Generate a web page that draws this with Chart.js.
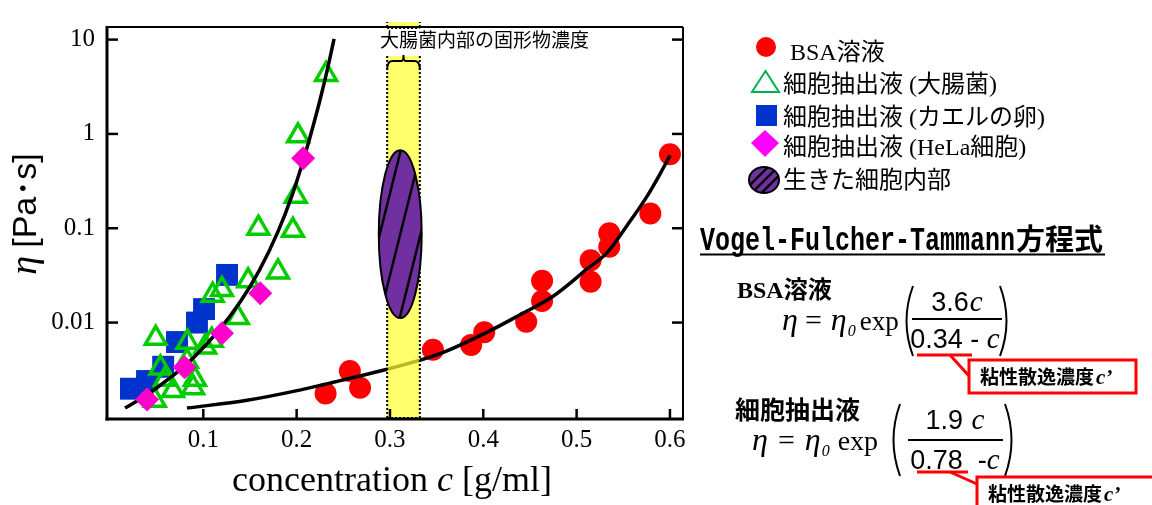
<!DOCTYPE html>
<html lang="ja">
<head>
  <meta charset="UTF-8">
  <title>粘性と濃度</title>
  <script src="https://cdn.jsdelivr.net/npm/chart.js@4"></script>
  <style>
    html, body { margin: 0; padding: 0; background: #fff; }
    .wrap { position: relative; width: 1152px; height: 505px; }
  </style>
</head>
<body>
<div class="wrap"><canvas id="chart"></canvas></div>
<script>
  // BSA溶液 (red circles)
  const bsaX = [0.231, 0.257, 0.268, 0.346, 0.387, 0.401, 0.446, 0.463, 0.463, 0.515, 0.515, 0.535, 0.535, 0.579, 0.600];
  const bsaY = [0.00177, 0.00306, 0.00204, 0.00514, 0.0058, 0.0079, 0.0102, 0.0169, 0.0277, 0.0271, 0.0457, 0.0637, 0.0887, 0.143, 0.61];

  // 細胞抽出液 (大腸菌) - green triangles
  const ecoliX = [0.049, 0.110, 0.120, 0.148, 0.180, 0.137, 0.109, 0.102, 0.083, 0.054, 0.059, 0.0675, 0.091, 0.089, 0.048, 0.0825, 0.159, 0.196, 0.199, 0.2015, 0.2315];
  const ecoliY = [0.0068, 0.0195, 0.0224, 0.0277, 0.0344, 0.0113, 0.0065, 0.0055, 0.0062, 0.0033, 0.0025, 0.0019, 0.0025, 0.00204, 0.0015, 0.0039, 0.100, 0.095, 0.219, 0.955, 4.27];

  // 細胞抽出液 (カエルの卵) - blue squares
  const frogX = [0.0225, 0.0397, 0.057, 0.0718, 0.0932, 0.1008, 0.1254];
  const frogY = [0.00199, 0.0024, 0.0034, 0.00622, 0.0100, 0.0139, 0.032];

  // 細胞抽出液 (HeLa細胞) - magenta diamonds
  const helaX = [0.0397, 0.080, 0.120, 0.161, 0.207];
  const helaY = [0.00153, 0.00336, 0.0077, 0.0204, 0.552];

  // fitted curves
  const bsaFitX = [0.0825, 0.1468, 0.2004, 0.254, 0.2969, 0.3537, 0.404, 0.4394, 0.4748, 0.5113, 0.5327, 0.5541, 0.5756, 0.5895, 0.6002];
  const bsaFitY = [0.00124, 0.0015, 0.0019, 0.00252, 0.0032, 0.00468, 0.00789, 0.0121, 0.019, 0.037, 0.0552, 0.107, 0.219, 0.378, 0.593];
  const cellFitX = [0.0161, 0.040, 0.065, 0.090, 0.115, 0.140, 0.160, 0.180, 0.195, 0.207, 0.217, 0.2251, 0.2337, 0.2401];
  const cellFitY = [0.00124, 0.00173, 0.00262, 0.0043, 0.0079, 0.0168, 0.0357, 0.092, 0.222, 0.52, 1.15, 2.3, 5.2, 10.2];

  // 大腸菌内部の固形物濃度 band and 生きた細胞内部 ellipse extents
  const bandX = [0.297, 0.332];
  const cellInteriorX = [0.288, 0.334];
  const cellInteriorY = [0.0112, 0.67];

  // axes
  const xTicks = [0.1, 0.2, 0.3, 0.4, 0.5, 0.6];
  const xTickLabels = ['0.1', '0.2', '0.3', '0.4', '0.5', '0.6'];
  const yTicks = [0.01, 0.1, 1, 10];
  const yTickLabels = ['0.01', '0.1', '1', '10'];
  const xMin = -0.0032, xMax = 0.614;
  const yMin = 0.00095, yMax = 13.6;

  const SERIF = '"Liberation Serif", "Noto Sans CJK JP", serif';
  const SANS = '"Liberation Sans", "Noto Sans CJK JP", sans-serif';
  const CJK = '"Noto Sans CJK JP", sans-serif';
  const MONO = '"Liberation Mono", monospace';

  const toPts = (xs, ys) => xs.map((x, i) => ({ x: x, y: ys[i] }));

  // draw a row of [text, font, gapAfter, dy] pieces
  function runs(ctx, parts, x, y, align, color) {
    ctx.save();
    ctx.fillStyle = color || '#000';
    ctx.textAlign = 'left';
    ctx.textBaseline = 'alphabetic';
    let total = 0;
    parts.forEach(p => { ctx.font = p[1]; total += ctx.measureText(p[0]).width + (p[2] || 0); });
    let cx = align === 'center' ? x - total / 2 : x;
    parts.forEach(p => {
      ctx.font = p[1];
      ctx.fillText(p[0], cx, y + (p[3] || 0));
      cx += ctx.measureText(p[0]).width + (p[2] || 0);
    });
    ctx.restore();
  }

  function line(ctx, x1, y1, x2, y2, w, color) {
    ctx.beginPath();
    ctx.moveTo(x1, y1);
    ctx.lineTo(x2, y2);
    ctx.lineWidth = w;
    ctx.strokeStyle = color || '#000';
    ctx.stroke();
  }

  function paren(ctx, x, top, bottom, dir) {
    // dir 1 = "(", -1 = ")"
    ctx.beginPath();
    ctx.moveTo(x + dir * 8, top);
    ctx.quadraticCurveTo(x - dir * 5, (top + bottom) / 2, x + dir * 8, bottom);
    ctx.lineWidth = 2;
    ctx.strokeStyle = '#000';
    ctx.stroke();
  }

  function hatchedEllipse(ctx, cx, cy, rx, ry, offsets, slope) {
    ctx.save();
    ctx.beginPath();
    ctx.ellipse(cx, cy, rx, ry, 0, 0, Math.PI * 2);
    ctx.fillStyle = '#7030a0';
    ctx.fill();
    ctx.save();
    ctx.clip();
    offsets.forEach(k => {
      const bx = cx + k * rx;
      line(ctx, bx + slope * (ry + 10), cy - ry - 10, bx - slope * (ry + 10), cy + ry + 10, 2.5);
    });
    ctx.restore();
    ctx.beginPath();
    ctx.ellipse(cx, cy, rx, ry, 0, 0, Math.PI * 2);
    ctx.lineWidth = 2;
    ctx.strokeStyle = '#000';
    ctx.stroke();
    ctx.restore();
  }

  const decor = {
    id: 'decor',
    afterDatasetsDraw(chart) {
      const ctx = chart.ctx, a = chart.chartArea;
      const xs = chart.scales.x, ys = chart.scales.y;
      const bx0 = xs.getPixelForValue(bandX[0]), bx1 = xs.getPixelForValue(bandX[1]);
      const gapTop = 22, gapBottom = 56;

      ctx.save();
      ctx.fillStyle = 'rgba(255, 255, 51, 0.72)';
      ctx.fillRect(bx0, a.top, bx1 - bx0, gapTop - a.top);
      ctx.fillRect(bx0, gapBottom, bx1 - bx0, a.bottom - gapBottom);
      ctx.setLineDash([2, 2]);
      [[a.top, gapTop], [gapBottom, a.bottom]].forEach(seg => {
        line(ctx, bx0, seg[0], bx0, seg[1], 2);
        line(ctx, bx1, seg[0], bx1, seg[1], 2);
      });
      line(ctx, bx0, a.top + 1, bx1, a.top + 1, 2);
      line(ctx, bx0, a.bottom - 1, bx1, a.bottom - 1, 2);
      ctx.setLineDash([]);

      // brace
      const mid = (bx0 + bx1) / 2;
      ctx.beginPath();
      ctx.moveTo(bx0, 70);
      ctx.quadraticCurveTo(bx0, 61, bx0 + 5, 61);
      ctx.lineTo(mid - 2, 61);
      ctx.quadraticCurveTo(mid, 61, mid, 55);
      ctx.quadraticCurveTo(mid, 61, mid + 2, 61);
      ctx.lineTo(bx1 - 5, 61);
      ctx.quadraticCurveTo(bx1, 61, bx1, 70);
      ctx.lineWidth = 2;
      ctx.strokeStyle = '#000';
      ctx.stroke();
      runs(ctx, [['大腸菌内部の固形物濃度', '19px ' + CJK]], 380, 47);

      // living cell interior
      const ex0 = xs.getPixelForValue(cellInteriorX[0]), ex1 = xs.getPixelForValue(cellInteriorX[1]);
      const ey0 = ys.getPixelForValue(cellInteriorY[1]), ey1 = ys.getPixelForValue(cellInteriorY[0]);
      hatchedEllipse(ctx, (ex0 + ex1) / 2, (ey0 + ey1) / 2, (ex1 - ex0) / 2, (ey1 - ey0) / 2, [-0.95, 0, 0.95], 0.25);
      ctx.restore();
    },
    afterDraw(chart) {
      const ctx = chart.ctx, a = chart.chartArea;
      const xs = chart.scales.x, ys = chart.scales.y;
      ctx.save();

      // frame
      line(ctx, a.left, a.top - 1, a.left, a.bottom + 1.5, 3);
      line(ctx, a.left - 1.5, a.bottom, a.right + 1, a.bottom, 3);
      line(ctx, a.left, a.top, a.right, a.top, 2);
      line(ctx, a.right, a.top, a.right, a.bottom, 2);

      // inward ticks
      yTicks.forEach(v => {
        const p = ys.getPixelForValue(v);
        line(ctx, a.left, p, a.left + 11, p, 2.5);
        line(ctx, a.right, p, a.right - 11, p, 2.5);
      });
      xTicks.forEach(v => {
        const p = xs.getPixelForValue(v);
        line(ctx, p, a.bottom, p, a.bottom - 10, 2.5);
      });

      // axis titles
      runs(ctx, [['concentration ', '36px ' + SERIF], ['c', 'italic 36px ' + SERIF], [' [g/ml]', '36px ' + SERIF]], 392, 491, 'center');
      ctx.save();
      ctx.translate(36, 214);
      ctx.rotate(-Math.PI / 2);
      runs(ctx, [['η', 'italic 38px ' + SERIF, 8], ['[Pa･s]', '34px ' + SANS]], 0, 0, 'center');
      ctx.restore();

      // legend
      const LF = '24px ' + SERIF;
      ctx.beginPath();
      ctx.arc(766, 47, 10, 0, Math.PI * 2);
      ctx.fillStyle = '#ff0000';
      ctx.fill();
      runs(ctx, [['BSA溶液', LF]], 790, 60);

      ctx.beginPath();
      ctx.moveTo(765.5, 71); ctx.lineTo(779, 92); ctx.lineTo(752, 92); ctx.closePath();
      ctx.lineWidth = 2; ctx.strokeStyle = '#00b050'; ctx.stroke();
      runs(ctx, [['細胞抽出液 (大腸菌)', LF]], 783, 92);

      ctx.fillStyle = '#0033cc';
      ctx.fillRect(756, 105, 21, 21);
      runs(ctx, [['細胞抽出液 (カエルの卵)', LF]], 783, 125);

      ctx.beginPath();
      ctx.moveTo(765, 130); ctx.lineTo(779, 143); ctx.lineTo(765, 157); ctx.lineTo(751, 143); ctx.closePath();
      ctx.fillStyle = '#ff00ff'; ctx.fill();
      runs(ctx, [['細胞抽出液 (HeLa細胞)', LF]], 783, 155);

      ctx.save();
      ctx.translate(764, 180);
      hatchedEllipse(ctx, 0, 0, 15, 13, [-0.6, 0.05, 0.7], 1.0);
      ctx.restore();
      runs(ctx, [['生きた細胞内部', LF]], 783, 188);

      // Vogel-Fulcher-Tammann title
      ctx.save();
      ctx.translate(700, 250);
      ctx.scale(0.735, 1);
      runs(ctx, [['Vogel-Fulcher-Tammann', 'bold 34px ' + MONO]], 0, 0);
      ctx.restore();
      runs(ctx, [['方程式', 'bold 29px ' + CJK]], 1016, 250);
      line(ctx, 700, 254.5, 1105, 254.5, 2);

      // BSA equation
      runs(ctx, [['BSA溶液', 'bold 24px ' + SERIF]], 737, 298);
      runs(ctx, [['η', 'italic 32px ' + SERIF, 7], ['=', '30px ' + SERIF, 9], ['η', 'italic 32px ' + SERIF, 1], ['0', 'italic 16px ' + SERIF, 4, 6], ['exp', '27px ' + SERIF]], 782, 330);
      paren(ctx, 905, 286, 356, 1);
      paren(ctx, 1008, 286, 356, -1);
      runs(ctx, [['3.6', '27px ' + SANS, 1], ['c', 'italic 29px ' + SERIF]], 957, 311, 'center');
      line(ctx, 912, 319, 1002, 319, 2);
      runs(ctx, [['0.34 - ', '27px ' + SANS], ['c', 'italic 29px ' + SERIF]], 955, 348, 'center');
      line(ctx, 917, 355, 972, 355, 3, '#ff0000');
      line(ctx, 950, 355, 970, 377, 3, '#ff0000');
      ctx.fillStyle = '#fff';
      ctx.fillRect(969, 360, 167, 33);
      ctx.lineWidth = 3; ctx.strokeStyle = '#ff0000';
      ctx.strokeRect(969, 360, 167, 33);
      runs(ctx, [['粘性散逸濃度', 'bold 19px ' + CJK, 2], ['c', 'bold italic 21px ' + SERIF, 1], ['’', 'bold 21px ' + SERIF]], 980, 384);

      // cell extract equation
      runs(ctx, [['細胞抽出液', 'bold 25px ' + CJK]], 735, 419);
      runs(ctx, [['η', 'italic 32px ' + SERIF, 10], ['=', '30px ' + SERIF, 10], ['η', 'italic 32px ' + SERIF, 1], ['0', 'italic 16px ' + SERIF, 8, 6], ['exp', '28px ' + SERIF]], 752, 450);
      paren(ctx, 892, 404, 476, 1);
      paren(ctx, 1013, 404, 476, -1);
      runs(ctx, [['1.9 ', '27px ' + SANS, 1], ['c', 'italic 29px ' + SERIF]], 955, 429, 'center');
      line(ctx, 908, 440, 1003, 440, 2);
      runs(ctx, [['0.78  -', '27px ' + SANS], ['c', 'italic 29px ' + SERIF]], 955, 469, 'center');
      line(ctx, 917, 472, 968, 472, 3, '#ff0000');
      line(ctx, 950, 472, 977, 484, 3, '#ff0000');
      ctx.fillStyle = '#fff';
      ctx.fillRect(977, 477, 190, 40);
      ctx.lineWidth = 3; ctx.strokeStyle = '#ff0000';
      ctx.strokeRect(977, 477, 190, 40);
      runs(ctx, [['粘性散逸濃度', 'bold 19px ' + CJK, 2], ['c', 'bold italic 21px ' + SERIF, 1], ['’', 'bold 21px ' + SERIF]], 988, 501);

      ctx.restore();
    }
  };

  new Chart(document.getElementById('chart'), {
    type: 'scatter',
    data: {
      datasets: [
        { label: '細胞抽出液(HeLa細胞)', data: toPts(helaX, helaY), pointStyle: 'rectRot', pointRadius: 12,
          backgroundColor: '#ff00cc', borderWidth: 0, order: 0 },
        { label: 'BSA fit', data: toPts(bsaFitX, bsaFitY), showLine: true, pointRadius: 0,
          borderColor: '#000', borderWidth: 3.5, cubicInterpolationMode: 'monotone', order: 1 },
        { label: 'cell fit', data: toPts(cellFitX, cellFitY), showLine: true, pointRadius: 0,
          borderColor: '#000', borderWidth: 3.5, cubicInterpolationMode: 'monotone', order: 1 },
        { label: '細胞抽出液(大腸菌)', data: toPts(ecoliX, ecoliY), pointStyle: 'triangle', pointRadius: 12,
          backgroundColor: 'rgba(0,0,0,0)', borderColor: '#00cc00', borderWidth: 3.5, order: 2 },
        { label: '細胞抽出液(カエルの卵)', data: toPts(frogX, frogY), pointStyle: 'rect', pointRadius: 15.5,
          backgroundColor: '#0033cc', borderWidth: 0, order: 3 },
        { label: 'BSA溶液', data: toPts(bsaX, bsaY), pointStyle: 'circle', pointRadius: 11,
          backgroundColor: '#ff0000', borderWidth: 0, order: 4 }
      ]
    },
    options: {
      responsive: true,
      maintainAspectRatio: false,
      animation: false,
      devicePixelRatio: 1,
      layout: { padding: { top: 16, right: 469, left: 0, bottom: 0 } },
      plugins: { legend: { display: false }, tooltip: { enabled: false } },
      scales: {
        x: {
          type: 'linear', min: xMin, max: xMax,
          afterFit: s => { s.height = 86; },
          afterBuildTicks: s => { s.ticks = xTicks.map(v => ({ value: v })); },
          grid: { display: false, drawTicks: false },
          border: { display: false },
          ticks: { padding: 6, color: '#000', font: { family: SERIF, size: 25 }, maxRotation: 0, autoSkip: false,
                   callback: (v, i) => xTickLabels[i] }
        },
        y: {
          type: 'logarithmic', min: yMin, max: yMax,
          afterFit: s => { s.width = 107; },
          afterBuildTicks: s => { s.ticks = yTicks.map(v => ({ value: v })); },
          grid: { display: false, drawTicks: false },
          border: { display: false },
          ticks: { padding: 12, color: '#000', font: { family: SERIF, size: 25 }, autoSkip: false,
                   callback: (v, i) => yTickLabels[i] }
        }
      }
    },
    plugins: [decor]
  });
</script>
</body>
</html>
